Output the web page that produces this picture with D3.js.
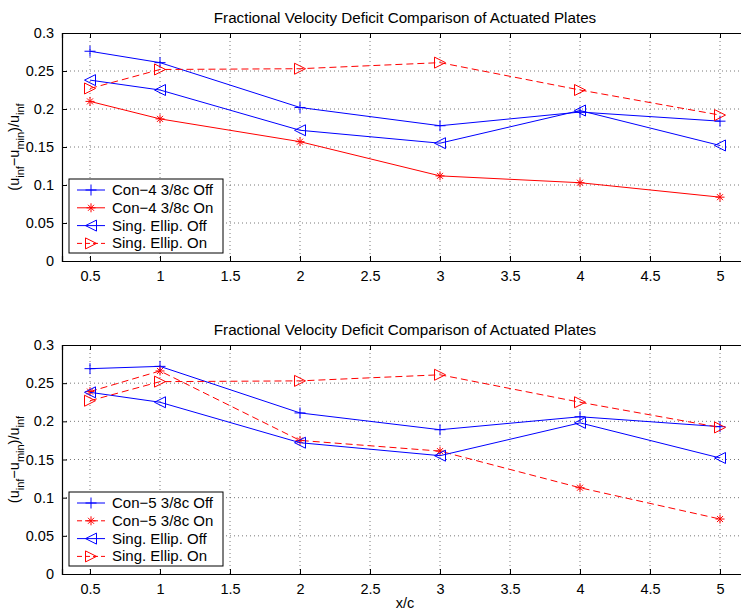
<!DOCTYPE html>
<html><head><meta charset="utf-8">
<script src="https://cdn.jsdelivr.net/npm/d3@7"></script>
<style>body{margin:0;background:#fff}svg{display:block}text{font-family:"Liberation Sans",Arial,Helvetica,sans-serif}</style>
</head><body>
<svg id="c" width="741" height="611"></svg>
<script>
const xPositions = [0.5, 1, 2, 3, 4, 5];
const xTickValues = [0.5, 1, 1.5, 2, 2.5, 3, 3.5, 4, 4.5, 5];
const yTickValues = [0, 0.05, 0.1, 0.15, 0.2, 0.25, 0.3];
const titleText = "Fractional Velocity Deficit Comparison of Actuated Plates";

const con4Off = [0.276, 0.261, 0.202, 0.178, 0.196, 0.184];
const con4On  = [0.210, 0.187, 0.157, 0.112, 0.103, 0.084];
const con5Off = [0.269, 0.272, 0.211, 0.189, 0.206, 0.193];
const con5On  = [0.239, 0.266, 0.175, 0.161, 0.113, 0.072];
const singOff = [0.238, 0.225, 0.172, 0.155, 0.198, 0.152];
const singOn  = [0.227, 0.252, 0.253, 0.261, 0.225, 0.192];

const topSeries = [
  {name: "Con\u22124 3/8c Off", values: con4Off, color: "#0000ff", dash: null, marker: "plus"},
  {name: "Con\u22124 3/8c On", values: con4On, color: "#ff0000", dash: null, marker: "star"},
  {name: "Sing. Ellip. Off", values: singOff, color: "#0000ff", dash: null, marker: "tleft"},
  {name: "Sing. Ellip. On", values: singOn, color: "#ff0000", dash: "7,4", marker: "tright"}
];
const botSeries = [
  {name: "Con\u22125 3/8c Off", values: con5Off, color: "#0000ff", dash: null, marker: "plus"},
  {name: "Con\u22125 3/8c On", values: con5On, color: "#ff0000", dash: "7,4", marker: "star"},
  {name: "Sing. Ellip. Off", values: singOff, color: "#0000ff", dash: null, marker: "tleft"},
  {name: "Sing. Ellip. On", values: singOn, color: "#ff0000", dash: "7,4", marker: "tright"}
];

const svg = d3.select("#c");
const FONT = '"Liberation Sans",Arial,sans-serif';

function markerPath(type) {
  const s = 5.5, t = 5.5;
  switch (type) {
    case "plus": return `M${-s},0H${s}M0,${-s}V${s}`;
    case "star": { const d = 3; return `M-4.5,0H4.5M0,-4.5V4.5M${-d},${-d}L${d},${d}M${-d},${d}L${d},${-d}`; }
    case "tleft": return `M${-t},0L${t},${-t}L${t},${t}Z`;
    case "tright": return `M${t},0L${-t},${-t}L${-t},${t}Z`;
  }
}

function panel(top, bottom, series, showXLabel) {
  const left = 62, right = 748;
  const x = d3.scaleLinear().domain([0.3, 5.2]).range([left, right]);
  const y = d3.scaleLinear().domain([0, 0.3]).range([bottom, top]);
  const g = svg.append("g");

  // grid
  const grid = g.append("g").attr("stroke", "#555").attr("stroke-width", 0.8).attr("stroke-dasharray", "1,3");
  grid.selectAll(".gx").data(xTickValues).join("line")
    .attr("x1", d => x(d)).attr("x2", d => x(d)).attr("y1", top).attr("y2", bottom);
  grid.selectAll(".gy").data(yTickValues.filter(v => v > 0 && v < 0.3)).join("line")
    .attr("x1", left).attr("x2", right).attr("y1", d => y(d)).attr("y2", d => y(d));

  // axes
  const ax = g.append("g").attr("transform", `translate(0,${bottom})`)
    .call(d3.axisBottom(x).tickValues(xTickValues).tickSize(-5).tickPadding(10).tickFormat(d3.format("")));
  const axTop = g.append("g").attr("transform", `translate(0,${top})`)
    .call(d3.axisTop(x).tickValues(xTickValues).tickSize(-5).tickFormat(""));
  const ay = g.append("g").attr("transform", `translate(${left},0)`)
    .call(d3.axisLeft(y).tickValues(yTickValues).tickSize(-5).tickPadding(8).tickFormat(d3.format("")));
  [ax, axTop, ay].forEach(a => {
    a.select(".domain").attr("stroke", "#000").attr("stroke-width", 1.2);
    a.selectAll(".tick line").attr("stroke", "#000");
    a.selectAll("text").attr("font-size", 14.5).attr("fill", "#000").attr("font-family", FONT);
  });

  // title
  g.append("text").attr("x", (left + right) / 2).attr("y", top - 10.5)
    .attr("text-anchor", "middle").attr("font-size", 15.2).text(titleText);

  // y label
  const yl = g.append("text").attr("transform", `translate(19,${(top + bottom) / 2}) rotate(-90)`)
    .attr("text-anchor", "middle").attr("font-size", 14.5);
  const parts = [["(u", 0], ["inf", 1], ["\u2212u", 0], ["min", 1], [")/u", 0], ["inf", 1]];
  let prevSub = 0;
  parts.forEach(([t, sub]) => {
    const ts = yl.append("tspan").text(t);
    if (sub !== prevSub) ts.attr("dy", sub ? 4.5 : -4.5);
    if (sub) ts.attr("font-size", 11);
    prevSub = sub;
  });

  if (showXLabel) {
    g.append("text").attr("x", (left + right) / 2).attr("y", 607.5)
      .attr("text-anchor", "middle").attr("font-size", 14.5).text("x/c");
  }

  // series
  const line = d3.line().x((d, i) => x(xPositions[i])).y(d => y(d));
  series.forEach(s => {
    g.append("path").datum(s.values).attr("d", line)
      .attr("fill", "none").attr("stroke", s.color).attr("stroke-width", 1)
      .attr("stroke-dasharray", s.dash);
    g.selectAll(null).data(s.values).join("path")
      .attr("transform", (d, i) => `translate(${x(xPositions[i])},${y(d)})`)
      .attr("d", markerPath(s.marker)).attr("fill", "none")
      .attr("stroke", s.color).attr("stroke-width", 1);
  });

  // legend
  const lx = 69, ly = bottom - 82, lw = 154, lh = 74;
  const lg = g.append("g");
  lg.append("rect").attr("x", lx).attr("y", ly).attr("width", lw).attr("height", lh)
    .attr("fill", "#fff").attr("stroke", "#000").attr("stroke-width", 1);
  series.forEach((s, i) => {
    const yy = ly + 11 + i * 17.8;
    lg.append("line").attr("x1", lx + 8).attr("x2", lx + 36).attr("y1", yy).attr("y2", yy)
      .attr("stroke", s.color).attr("stroke-width", 1).attr("stroke-dasharray", s.dash ? "5,3" : null);
    lg.append("path").attr("transform", `translate(${lx + 22},${yy})`).attr("d", markerPath(s.marker))
      .attr("fill", "none").attr("stroke", s.color);
    lg.append("text").attr("x", lx + 43).attr("y", yy + 5).attr("font-size", 15).text(s.name);
  });
}

panel(33, 261, topSeries, false);
panel(345, 574, botSeries, true);
</script>
</body></html>
